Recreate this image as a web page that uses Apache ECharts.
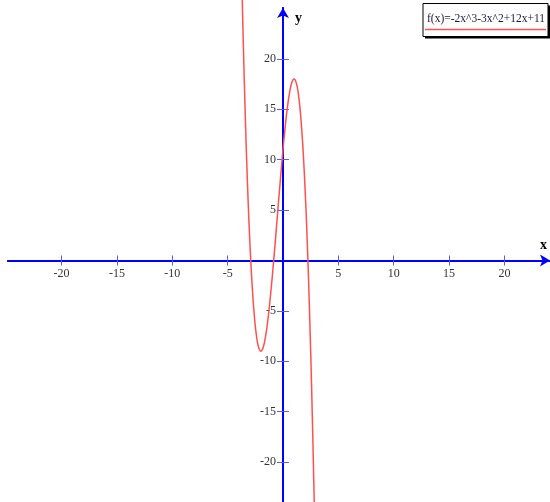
<!DOCTYPE html>
<html>
<head>
<meta charset="utf-8">
<script src="https://cdn.jsdelivr.net/npm/echarts@6/dist/echarts.min.js"></script>
<style>html,body{margin:0;padding:0;background:#fff}#c{width:550px;height:502px}</style>
</head>
<body>
<div id="c"></div>
<script>
const seriesName = 'f(x)=-2x^3-3x^2+12x+11';
const xValues = [-3.7,-3.6,-3.4,-3.2,-3.0,-2.8,-2.6,-2.4,-2.2,-2.0,-1.8,-1.6,-1.4,-1.2,-1.0,-0.8,-0.6,-0.4,-0.2,0,0.2,0.4,0.6,0.8,1.0,1.2,1.4,1.6,1.8,2.0,2.2,2.4,2.6,2.8,2.9];
const yValues = [26.836,22.232,14.128,7.416,2,-2.216,-5.328,-7.432,-8.624,-9,-8.656,-7.688,-6.192,-4.264,-2,0.504,3.152,5.848,8.496,11,13.264,15.192,16.688,17.656,18,17.624,16.432,14.328,11.216,7,1.584,-5.128,-13.232,-22.824,-28.208];
const xTicks = [-20,-15,-10,-5,5,10,15,20];
const yTicks = [-20,-15,-10,-5,5,10,15,20];
const xRange = [-24.84, 24.12];
const yRange = [-23.96, 25.05];

const W = 550, H = 502;
const gridBox = {left: 8, right: 0, top: 8, bottom: 0};
// pixel offsets that put each axis on the other axis' zero value
const plotW = W - gridBox.left - gridBox.right;
const plotH = H - gridBox.top - gridBox.bottom;
const yAxisOffset = -plotW * (0 - xRange[0]) / (xRange[1] - xRange[0]);
const xAxisOffset = -plotH * (0 - yRange[0]) / (yRange[1] - yRange[0]);

const chart = echarts.init(document.getElementById('c'), null, {renderer: 'canvas'});
const blue = '#0000ff';
const labelFont = {fontFamily: 'Liberation Serif', fontSize: 12, color: '#333'};

function xAxisCfg(main) {
  return {
    type: 'value', min: xRange[0], max: xRange[1], position: 'bottom', offset: xAxisOffset,
    name: main ? 'x' : '', nameLocation: 'end', nameGap: -10,
    nameTextStyle: {fontFamily: 'Liberation Serif', fontSize: 14, fontWeight: 'bold', color: '#000',
      align: 'left', verticalAlign: 'bottom', padding: [0, 0, 8, 0]},
    axisLine: {show: true, onZero: false,
      symbol: main ? ['none', 'arrow'] : ['none', 'none'], symbolSize: [9, 10],
      lineStyle: {color: blue, width: 2}},
    axisTick: {show: true, inside: !main, length: 5, customValues: xTicks, lineStyle: {color: '#5a5aff', width: 1}},
    axisLabel: Object.assign({show: main, margin: 7, customValues: xTicks}, labelFont),
    splitLine: {show: false}
  };
}
function yAxisCfg(main) {
  return {
    type: 'value', min: yRange[0], max: yRange[1], position: 'left', offset: yAxisOffset,
    name: main ? 'y' : '', nameLocation: 'end', nameGap: -10,
    nameTextStyle: {fontFamily: 'Liberation Serif', fontSize: 14, fontWeight: 'bold', color: '#000',
      align: 'left', verticalAlign: 'middle', padding: [0, 0, 0, 12]},
    axisLine: {show: true, onZero: false,
      symbol: main ? ['none', 'arrow'] : ['none', 'none'], symbolSize: [9, 10],
      lineStyle: {color: blue, width: 2}},
    axisTick: {show: true, inside: !main, length: 6, customValues: yTicks, lineStyle: {color: '#5a5aff', width: 1}},
    axisLabel: Object.assign({show: main, margin: 7, customValues: yTicks}, labelFont),
    splitLine: {show: false}
  };
}

chart.setOption({
  animation: false,
  backgroundColor: '#fff',
  grid: Object.assign({containLabel: false, outerBoundsMode: 'none'}, gridBox),
  xAxis: [xAxisCfg(true), xAxisCfg(false)],
  yAxis: [yAxisCfg(true), yAxisCfg(false)],
  series: [{
    name: seriesName, type: 'line', xAxisIndex: 0, yAxisIndex: 0,
    data: xValues.map((x, i) => [x, yValues[i]]),
    smooth: true, showSymbol: false, clip: false,
    lineStyle: {color: '#ff5050', width: 1.5}
  }],
  graphic: [{
    type: 'group', right: 0, top: 3,
    children: [
      {type: 'rect', shape: {x: 2, y: 2, width: 125, height: 33}, style: {fill: '#000'}},
      {type: 'rect', shape: {x: 0, y: 0, width: 125, height: 33}, style: {fill: '#fff', stroke: '#000', lineWidth: 1}},
      {type: 'text', x: 4, y: 9, style: {text: seriesName, font: '11.5px "Liberation Serif"', fill: '#1a1a3a'}},
      {type: 'line', shape: {x1: 2, y1: 26, x2: 123, y2: 26}, style: {stroke: '#ff5050', lineWidth: 1.5}}
    ]
  }]
});
</script>
</body>
</html>
